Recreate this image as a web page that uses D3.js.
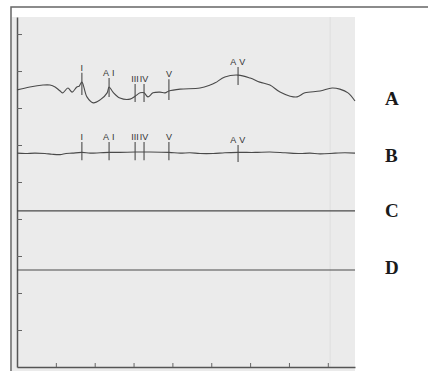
<!DOCTYPE html>
<html>
<head>
<meta charset="utf-8">
<script src="https://cdn.jsdelivr.net/npm/d3@7"></script>
<style>
  html, body { margin: 0; padding: 0; background: #fff; }
  svg { display: block; }
</style>
</head>
<body>
<div id="chart"></div>
<script>
// time in ms, amplitude in arbitrary units
const traceA = [
  [0, 7.49], [33, 7.57], [67, 7.62], [85, 7.62], [98, 7.57], [111, 7.46], [118, 7.41],
  [131, 7.54], [142, 7.43], [154, 7.57], [160, 7.59], [167, 7.70], [180, 7.30], [196, 7.14],
  [214, 7.22], [232, 7.41], [237, 7.57], [247, 7.43], [265, 7.27], [291, 7.24], [304, 7.32],
  [317, 7.41], [327, 7.41], [337, 7.30], [350, 7.41], [368, 7.43], [381, 7.41], [391, 7.46],
  [420, 7.51], [471, 7.54], [497, 7.62], [510, 7.68], [535, 7.84], [569, 7.89], [600, 7.81],
  [625, 7.70], [651, 7.62], [677, 7.43], [703, 7.32], [721, 7.30], [741, 7.41], [780, 7.46],
  [811, 7.54], [831, 7.51], [852, 7.41], [870, 7.19]
];
const traceB = [
  [0, 5.78], [21, 5.77], [46, 5.78], [72, 5.77], [90, 5.75], [111, 5.74], [126, 5.77],
  [142, 5.78], [167, 5.80], [188, 5.78], [214, 5.79], [237, 5.80], [265, 5.80], [304, 5.81],
  [342, 5.81], [391, 5.80], [420, 5.78], [445, 5.79], [471, 5.77], [505, 5.77], [535, 5.79],
  [569, 5.80], [613, 5.80], [651, 5.81], [690, 5.79], [728, 5.77], [754, 5.78], [780, 5.76],
  [819, 5.78], [844, 5.79], [870, 5.78]
];
const levelC = 4.22;
const levelD = 2.62;
const timeEnd = 870;

const traceNames = ["A", "B", "C", "D"];
const labelLevels = [7.27, 5.73, 4.23, 2.70];

// event markers: name, time, tick extent on trace A, tick extent on trace B
const markerNames = ["I", "A I", "III", "IV", "V", "A V"];
const markerTimes = [167, 237, 304, 327, 391, 569];
const markerA = [[7.35, 7.95], [7.30, 7.81], [7.16, 7.65], [7.16, 7.65], [7.22, 7.78], [7.62, 8.11]];
const markerB = [[5.59, 6.08], [5.59, 6.08], [5.59, 6.08], [5.59, 6.08], [5.59, 6.08], [5.54, 6.00]];

const xTicks = [100, 200, 300, 400, 500, 600, 700, 800];
const yTicks = [1, 2, 3, 4, 5, 6, 7, 8, 9];
const foldLine = 806;

const width = 428, height = 371;
const x = d3.scaleLinear().domain([0, timeEnd]).range([17, 355]);
const y = d3.scaleLinear().domain([0, 9.46]).range([367, 17]);

const svg = d3.select("#chart").append("svg")
    .attr("width", width)
    .attr("height", height)
    .attr("viewBox", [0, 0, width, height]);

// paper frame and shaded plot area
svg.append("rect")
    .attr("x", 12).attr("y", 17)
    .attr("width", 343).attr("height", height - 17)
    .attr("fill", "#ebebeb");
svg.append("path")
    .attr("d", `M11,${height}V7H${width}`)
    .attr("fill", "none")
    .attr("stroke", "#666")
    .attr("stroke-width", 1.5);

svg.append("line")
    .attr("x1", x(foldLine)).attr("x2", x(foldLine))
    .attr("y1", 17).attr("y2", y(0))
    .attr("stroke", "#dedede");

// axes
svg.append("g")
    .attr("transform", `translate(${x(0)},0)`)
    .call(d3.axisLeft(y).tickValues(yTicks).tickSize(-5).tickSizeOuter(0).tickFormat(""))
    .call(g => g.select(".domain").attr("stroke", "#555").attr("stroke-width", 1.5))
    .call(g => g.selectAll(".tick line").attr("stroke", "#666"));

svg.append("g")
    .attr("transform", `translate(0,${y(0)})`)
    .call(d3.axisBottom(x).tickValues(xTicks).tickSize(-4).tickSizeOuter(0).tickFormat(""))
    .call(g => g.select(".domain").attr("stroke", "#555").attr("stroke-width", 1.5))
    .call(g => g.selectAll(".tick line").attr("stroke", "#666"));

// traces
const line = d3.line()
    .x(d => x(d[0]))
    .y(d => y(d[1]))
    .curve(d3.curveCatmullRom);

svg.append("g")
    .attr("fill", "none")
    .attr("stroke", "#4a4a4a")
    .attr("stroke-width", 1.1)
  .selectAll("path")
  .data([traceA, traceB, [[0, levelC], [timeEnd, levelC]], [[0, levelD], [timeEnd, levelD]]])
  .join("path")
    .attr("d", line);

// markers
[markerA, markerB].forEach(ext => {
  const g = svg.append("g");
  g.selectAll("line")
    .data(markerTimes)
    .join("line")
      .attr("x1", d => x(d)).attr("x2", d => x(d))
      .attr("y1", (d, i) => y(ext[i][0]))
      .attr("y2", (d, i) => y(ext[i][1]))
      .attr("stroke", "#4a4a4a")
      .attr("stroke-width", 1.1);
  g.selectAll("text")
    .data(markerTimes)
    .join("text")
      .attr("x", d => x(d))
      .attr("y", (d, i) => y(ext[i][1]) - 2)
      .attr("text-anchor", "middle")
      .attr("font-family", "Liberation Sans, Arial, sans-serif")
      .attr("font-size", 9)
      .attr("letter-spacing", (d, i) => markerNames[i].includes(" ") ? 0.5 : 0)
      .attr("fill", "#333")
      .text((d, i) => markerNames[i]);
});

// trace labels
svg.append("g")
  .selectAll("text")
  .data(traceNames)
  .join("text")
    .attr("x", 385)
    .attr("y", (d, i) => y(labelLevels[i]))
    .attr("dy", "0.35em")
    .attr("font-family", "Liberation Serif, Times New Roman, serif")
    .attr("font-weight", "bold")
    .attr("font-size", 19)
    .attr("fill", "#1a1a1a")
    .text(d => d);
</script>
</body>
</html>
